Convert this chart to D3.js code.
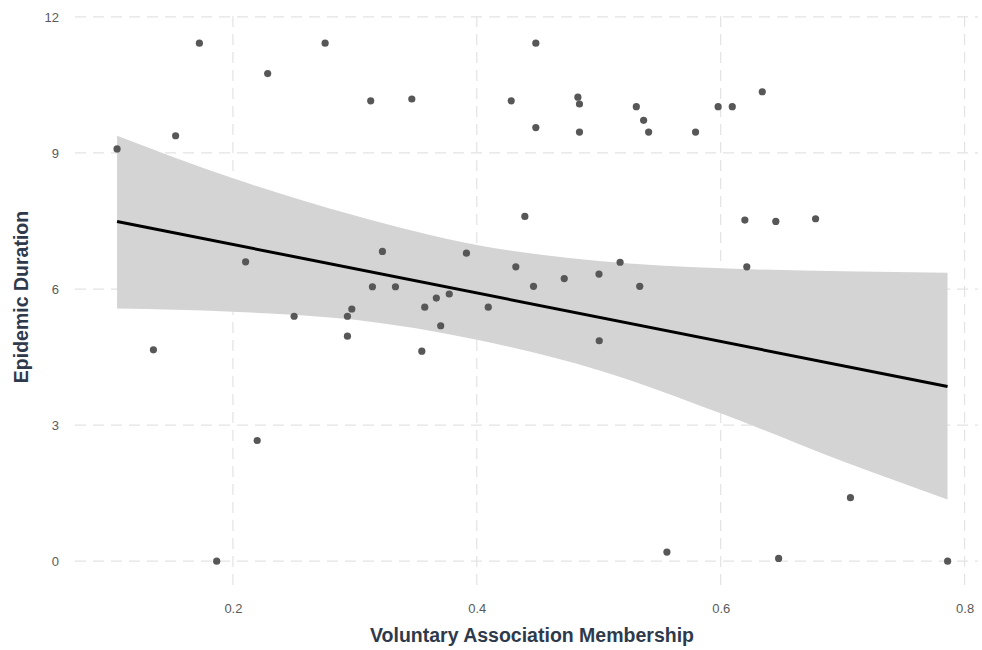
<!DOCTYPE html>
<html>
<head>
<meta charset="utf-8">
<script src="https://cdn.jsdelivr.net/npm/d3@7"></script>
<style>
  body { margin: 0; background: #fff; }
  svg { display: block; font-family: "Liberation Sans", Arial, sans-serif; }
</style>
</head>
<body>
<svg id="chart"></svg>
<script>
// voluntary association membership (x) and epidemic duration (y)
var membership = [
  0.105, 0.153, 0.1725, 0.2285, 0.2756, 0.313, 0.3467, 0.4484, 0.4282, 0.4829,
  0.4842, 0.4484, 0.4842, 0.5308, 0.5368, 0.5409, 0.5794, 0.5979, 0.6095, 0.6341,
  0.4394, 0.6198, 0.6452, 0.6778, 0.2104, 0.3226, 0.3915, 0.432, 0.5175, 0.6214,
  0.3144, 0.3333, 0.4465, 0.4717, 0.5002, 0.5336, 0.3668, 0.3774, 0.3573, 0.4094,
  0.2975, 0.2939, 0.2502, 0.3704, 0.2939, 0.5004, 0.3549, 0.1348, 0.2199, 0.1867,
  0.5559, 0.6475, 0.7861, 0.7064
];
var duration = [
  9.09, 9.38, 11.42, 10.75, 11.42, 10.15, 10.19, 11.42, 10.15, 10.23,
  10.08, 9.56, 9.46, 10.02, 9.72, 9.46, 9.46, 10.02, 10.02, 10.35,
  7.60, 7.52, 7.49, 7.55, 6.60, 6.83, 6.79, 6.49, 6.59, 6.49,
  6.05, 6.05, 6.06, 6.23, 6.33, 6.06, 5.80, 5.89, 5.60, 5.60,
  5.56, 5.40, 5.40, 5.19, 4.96, 4.86, 4.63, 4.66, 2.66, 0,
  0.20, 0.06, 0, 1.40
];

// fitted line and its 95% band
var fitX = [0.105, 0.786];
var fitY = [7.49, 3.85];
var bandX     = [0.105, 0.2,  0.3,  0.4,  0.5,  0.6,  0.7,  0.786];
var bandUpper = [9.38,  8.44, 7.62, 6.97, 6.62, 6.46, 6.39, 6.36];
var bandLower = [5.57,  5.50, 5.32, 4.88, 4.21, 3.26, 2.20, 1.36];

var xTicks = [0.2, 0.4, 0.6, 0.8];
var yTicks = [0, 3, 6, 9, 12];

var width = 982, height = 650;
var svg = d3.select('#chart').attr('width', width).attr('height', height);

var x = d3.scaleLinear().domain([0.0705, 0.811]).range([75, 978]);
var y = d3.scaleLinear().domain([-0.57, 12.02]).range([587, 16]);

var points = membership.map(function(d, i){ return [d, duration[i]]; });
var band = bandX.map(function(d, i){ return { x: d, lo: bandLower[i], hi: bandUpper[i] }; });
var fit = fitX.map(function(d, i){ return [d, fitY[i]]; });

// grid
var grid = svg.append('g')
    .attr('stroke', '#e3e3e3')
    .attr('stroke-width', 1.2)
    .attr('stroke-dasharray', '11,7');

grid.selectAll('.gx')
  .data(xTicks)
  .enter()
    .append('line')
    .attr('x1', function(d){ return x(d); })
    .attr('x2', function(d){ return x(d); })
    .attr('y1', y.range()[1])
    .attr('y2', y.range()[0]);

grid.selectAll('.gy')
  .data(yTicks)
  .enter()
    .append('line')
    .attr('y1', function(d){ return y(d); })
    .attr('y2', function(d){ return y(d); })
    .attr('x1', x.range()[0])
    .attr('x2', x.range()[1]);

// confidence band
svg.append('path')
  .datum(band)
  .attr('fill', '#d4d4d4')
  .attr('d', d3.area()
    .curve(d3.curveMonotoneX)
    .x(function(d){ return x(d.x); })
    .y0(function(d){ return y(d.lo); })
    .y1(function(d){ return y(d.hi); }));

// points
svg.append('g')
  .selectAll('circle')
  .data(points)
  .enter()
    .append('circle')
    .attr('cx', function(d){ return x(d[0]); })
    .attr('cy', function(d){ return y(d[1]); })
    .attr('r', 3.6)
    .attr('fill', '#575757');

// fit line
svg.append('path')
  .datum(fit)
  .attr('fill', 'none')
  .attr('stroke', '#000')
  .attr('stroke-width', 3)
  .attr('d', d3.line()
    .x(function(d){ return x(d[0]); })
    .y(function(d){ return y(d[1]); }));

// axes (text only, like theme_minimal)
var xAxis = svg.append('g')
    .attr('transform', 'translate(0,604)')
    .call(d3.axisBottom(x).tickValues(xTicks).tickSize(0).tickPadding(0).tickFormat(d3.format('.1f')));
var yAxis = svg.append('g')
    .attr('transform', 'translate(59,0)')
    .call(d3.axisLeft(y).tickValues(yTicks).tickSize(0).tickPadding(0).tickFormat(d3.format('d')));

[xAxis, yAxis].forEach(function(a){
  a.select('.domain').remove();
  a.selectAll('text')
    .attr('fill', '#5a5a5a')
    .style('font-size', '13px')
    .style('font-family', '"Liberation Sans", Arial, sans-serif');
});

svg.append('text')
  .attr('x', 532)
  .attr('y', 642)
  .attr('text-anchor', 'middle')
  .attr('fill', '#2e3a4b')
  .style('font-size', '19.5px')
  .style('font-weight', 'bold')
  .text('Voluntary Association Membership');

svg.append('text')
  .attr('transform', 'translate(28,297) rotate(-90)')
  .attr('text-anchor', 'middle')
  .attr('fill', '#2e3a4b')
  .style('font-size', '19.5px')
  .style('font-weight', 'bold')
  .text('Epidemic Duration');
</script>
</body>
</html>
